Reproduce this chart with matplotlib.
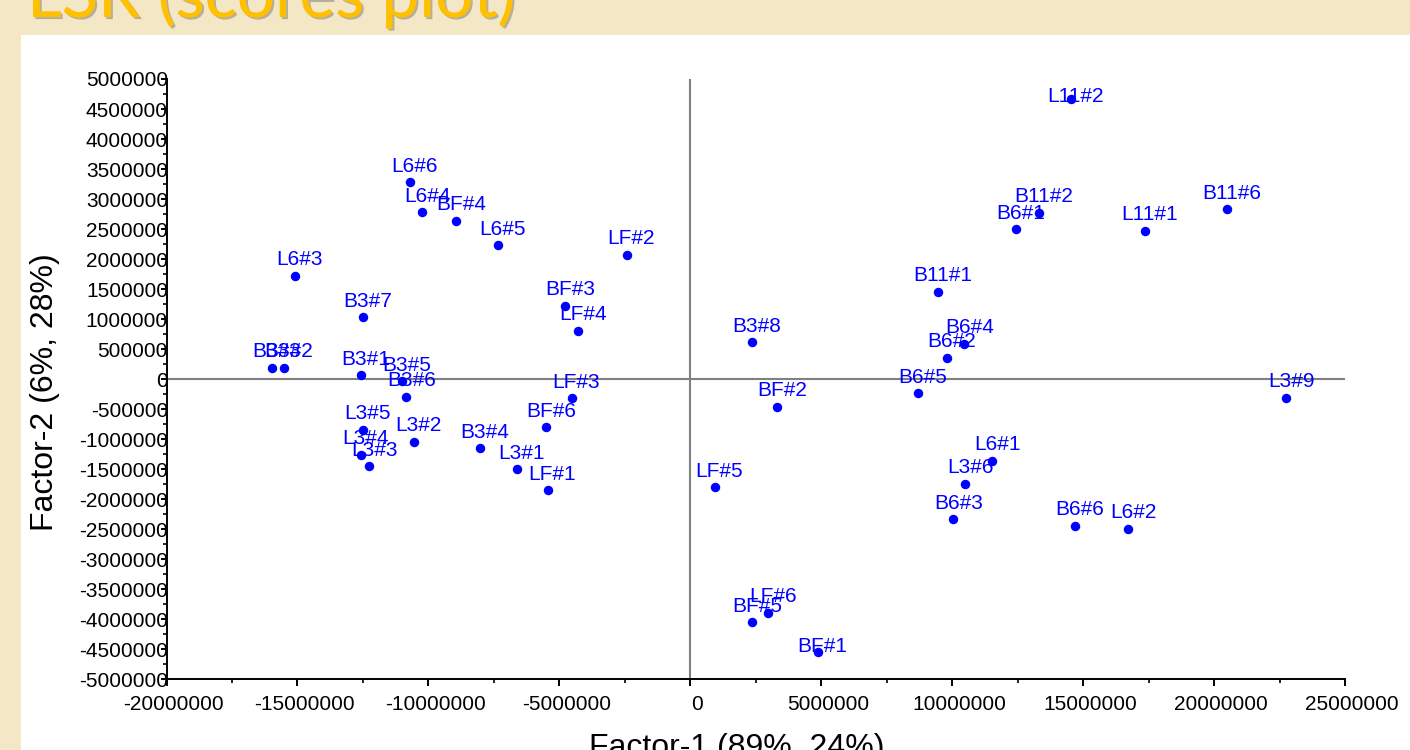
import matplotlib
matplotlib.use("Agg")
import matplotlib.pyplot as plt
import matplotlib.patheffects as pe
import matplotlib.transforms as mtransforms
from matplotlib.patches import Rectangle
from matplotlib.ticker import MultipleLocator, FuncFormatter

plt.rcParams['font.family'] = ['Liberation Sans', 'DejaVu Sans']

# LSR scores, factor-1 vs factor-2
samples = ['L11#2', 'B11#6', 'L11#1', 'B11#2', 'B6#1', 'B11#1', 'B6#4', 'B6#2',
           'B6#5', 'L3#9', 'BF#2', 'B3#8', 'L6#1', 'L3#6', 'B6#3', 'B6#6',
           'L6#2', 'LF#5', 'LF#6', 'BF#5', 'BF#1', 'LF#2', 'BF#3', 'LF#4',
           'LF#3', 'BF#6', 'LF#1', 'L3#1', 'B3#4', 'L3#2', 'L6#5', 'BF#4',
           'L6#4', 'L6#6', 'L6#3', 'B3#7', 'B3#3', 'B3#2', 'B3#1', 'B3#5',
           'B3#6', 'L3#5', 'L3#4', 'L3#3']
factor1 = [14520000, 20500000, 17370000, 13320000, 12440000, 9440000, 10470000, 9810000,
           8680000, 22760000, 3330000, 2340000, 11540000, 10500000, 10050000, 14700000,
           16730000, 930000, 2980000, 2370000, 4870000, -2430000, -4770000, -4280000,
           -4530000, -5500000, -5450000, -6620000, -8020000, -10550000, -7350000, -8930000,
           -10230000, -10710000, -15090000, -12510000, -15990000, -15510000, -12580000, -11010000,
           -10840000, -12510000, -12570000, -12250000]
factor2 = [4670000, 2830000, 2470000, 2770000, 2500000, 1460000, 590000, 360000,
           -230000, -310000, -460000, 620000, -1360000, -1740000, -2330000, -2440000,
           -2490000, -1800000, -3890000, -4050000, -4540000, 2070000, 1220000, 810000,
           -320000, -800000, -1850000, -1500000, -1150000, -1040000, 2230000, 2640000,
           2780000, 3280000, 1720000, 1030000, 190000, 190000, 70000, -30000,
           -290000, -840000, -1260000, -1450000]

# labels sit above their point, except these which are pulled down onto it
label_offset = {'L11#2': (3.5, -2), 'BF#1': (3, 0)}

W, H = 1410, 750
fig = plt.figure(figsize=(W / 100, H / 100), dpi=100)
fig.patch.set_facecolor('#F4E7C6')

# white slide panel, kept behind the axes
fig.patches.append(Rectangle((21 / W, 0), 1 - 21 / W, (H - 35) / H,
                             transform=fig.transFigure, facecolor='white',
                             edgecolor='none', zorder=-1))

# slide title (top cut off)
fig.text(27 / W, 1 - 17 / H, 'LSR (scores plot)', family='Lato', fontsize=48.5,
         color='#FFC000', ha='left', va='baseline',
         path_effects=[pe.withSimplePatchShadow(offset=(1.5, -1.5), shadow_rgbFace='#777777', alpha=0.5),
                       pe.Normal()])

ax = fig.add_axes([166.5 / W, (H - 679.3) / H, (1345 - 166.5) / W, (679.3 - 79) / H])
ax.set_facecolor('none')

ax.axhline(0, color='#808080', lw=1.5, zorder=1)
ax.axvline(0, color='#808080', lw=1.5, zorder=1)

ax.plot(factor1, factor2, 'o', color='#0000FF', markersize=5.8, zorder=3)
for name, x, y in zip(samples, factor1, factor2):
    ax.annotate(name, (x, y), xytext=label_offset.get(name, (3.5, 7.5)),
                textcoords='offset points', ha='center', va='baseline',
                fontsize=15, color='#0000FF', zorder=4)

ax.set_xlim(-20000000, 25000000)
ax.set_ylim(-5000000, 5000000)

for s in ['top', 'right']:
    ax.spines[s].set_visible(False)
for s in ['left', 'bottom']:
    ax.spines[s].set_linewidth(1.4)
    ax.spines[s].set_zorder(5)

ax.xaxis.set_major_locator(MultipleLocator(5000000))
ax.xaxis.set_minor_locator(MultipleLocator(2500000))
ax.yaxis.set_major_locator(MultipleLocator(500000))
ax.yaxis.set_minor_locator(MultipleLocator(250000))
fmt = FuncFormatter(lambda v, p: f'{v:.0f}')
ax.xaxis.set_major_formatter(fmt)
ax.yaxis.set_major_formatter(fmt)

ax.tick_params(axis='x', which='major', length=5, width=1.4, pad=6, labelsize=15)
ax.tick_params(axis='x', which='minor', length=3, width=1.2)
ax.tick_params(axis='y', which='major', length=4, width=1.4, pad=-5, labelsize=15)
ax.tick_params(axis='y', which='minor', length=3, width=1.2)

# x tick labels sit a little right of their ticks
shift = mtransforms.ScaledTranslation(7 / 100, 0, fig.dpi_scale_trans)
for lab in ax.get_xticklabels():
    lab.set_transform(lab.get_transform() + shift)

fig.text(45 / W, 1 - 392 / H, 'Factor-2 (6%, 28%)', rotation=90, fontsize=23,
         ha='center', va='center')
fig.text(737 / W, 1 - 756 / H, 'Factor-1 (89%, 24%)', fontsize=23,
         ha='center', va='baseline')

fig.savefig('out.png', dpi=100)
